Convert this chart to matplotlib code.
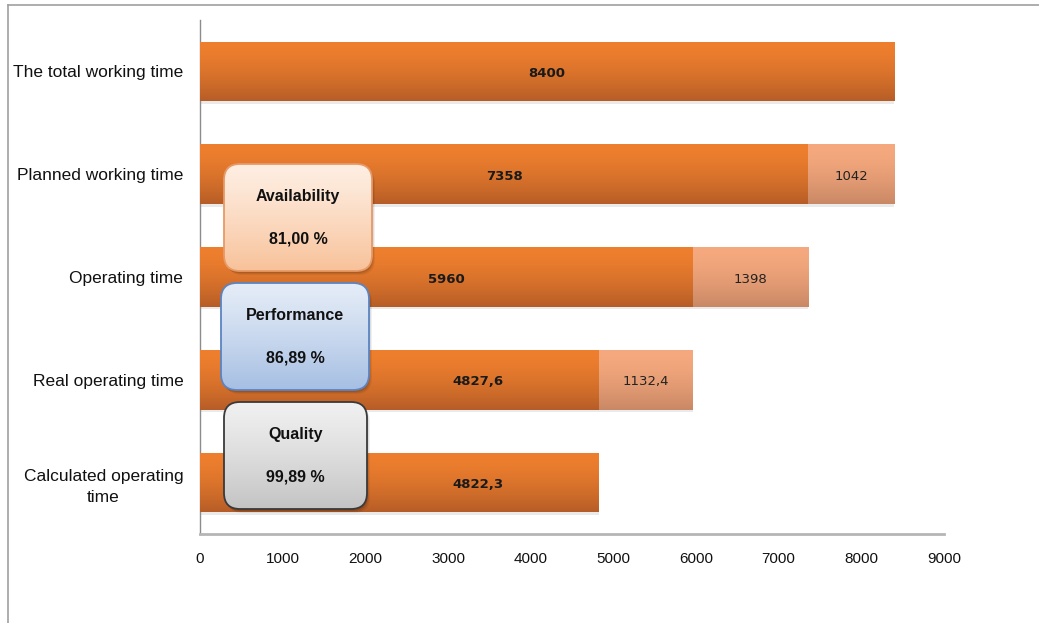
import numpy as np
import matplotlib
matplotlib.use("Agg")
import matplotlib.pyplot as plt
from matplotlib.patches import FancyBboxPatch
from matplotlib.colors import to_rgb
from matplotlib.lines import Line2D

# ---------------- data ----------------
categories = ["The total working time", "Planned working time", "Operating time",
              "Real operating time", "Calculated operating\ntime"]
main_values = [8400, 7358, 5960, 4827.6, 4822.3]
loss_values = [0, 1042, 1398, 1132.4, 0]
main_labels = ["8400", "7358", "5960", "4827,6", "4822,3"]
loss_labels = ["", "1042", "1398", "1132,4", ""]
x_ticks = [0, 1000, 2000, 3000, 4000, 5000, 6000, 7000, 8000, 9000]

kpi_names = ["Availability", "Performance", "Quality"]
kpi_values = ["81,00 %", "86,89 %", "99,89 %"]

# ---------------- style ----------------
W, H = 1039, 623
fig = plt.figure(figsize=(W / 100, H / 100), dpi=100)
fig.patch.set_facecolor("white")

ax_l, ax_r, ax_t, ax_b = 200, 944, 20, 534
ax = fig.add_axes([ax_l / W, 1 - ax_b / H, (ax_r - ax_l) / W, (ax_b - ax_t) / H])

dark_top, dark_bot = "#EE7F2E", "#B65D27"
light_top, light_bot = "#F6A97E", "#C98865"
bar_h = 0.58
box_clear = 1900  # labels are shifted right of the callout boxes when the bar centre is hidden


def vgrad(c_top, c_bot, n=64, gamma=1.6):
    a = np.array(to_rgb(c_top))
    b = np.array(to_rgb(c_bot))
    t = np.linspace(0, 1, n)[:, None] ** gamma
    return (a * (1 - t) + b * t)[:, None, :]


y = np.arange(len(categories))

# shadows
ax.barh(y + 0.025, main_values, height=bar_h, left=0, color="#999999", alpha=0.2, zorder=1)
ax.barh(y + 0.025, loss_values, height=bar_h, left=main_values, color="#999999", alpha=0.2, zorder=1)

main_bars = ax.barh(y, main_values, height=bar_h, color=dark_top, zorder=2)
loss_bars = ax.barh(y, loss_values, height=bar_h, left=main_values, color=light_top, zorder=2)

for bars, (ct, cb) in ((main_bars, (dark_top, dark_bot)), (loss_bars, (light_top, light_bot))):
    g = vgrad(ct, cb)
    for p in bars:
        if p.get_width() <= 0:
            continue
        x0, y0 = p.get_x(), p.get_y()
        w, h = p.get_width(), p.get_height()
        im = ax.imshow(g, extent=(x0, x0 + w, y0 + h, y0), origin="upper",
                       aspect="auto", zorder=3, interpolation="bilinear")
        im.set_clip_path(p)

for i in range(len(categories)):
    cx = main_values[i] / 2
    if i >= 3:
        cx = (box_clear + main_values[i]) / 2
    ax.text(cx, y[i] + 0.02, main_labels[i], ha="center", va="center",
            fontsize=9.5, fontweight="bold", color="#1a1a1a", zorder=5, family="DejaVu Sans")
    if loss_values[i] > 0:
        ax.text(main_values[i] + loss_values[i] / 2, y[i] + 0.02, loss_labels[i],
                ha="center", va="center", fontsize=9.5, color="#222222", zorder=5,
                family="DejaVu Sans")

ax.set_xlim(0, 9000)
ax.set_ylim(4.5, -0.5)
ax.set_yticks(y)
ax.set_yticklabels(categories, fontsize=12.5, family="Liberation Sans", color="#111111",
                   multialignment="center", linespacing=1.45)
ax.set_xticks(x_ticks)
ax.set_xticklabels([str(v) for v in x_ticks], fontsize=11, family="Liberation Sans",
                   color="#111111")
ax.tick_params(axis="both", length=0)
ax.tick_params(axis="y", pad=12)
ax.tick_params(axis="x", pad=13)
for s in ("top", "right"):
    ax.spines[s].set_visible(False)
ax.spines["left"].set_color("#8c8c8c")
ax.spines["left"].set_linewidth(1.0)
ax.spines["bottom"].set_color("#b5b5b5")
ax.spines["bottom"].set_linewidth(2.0)

# ---------------- KPI callout boxes ----------------
boxes = [
    (224, 164, 372, 271, "#FEEEE2", "#F8C29A", "#E69A68"),
    (221, 283, 369, 390, "#E4ECF7", "#A6BFE3", "#5A84C2"),
    (224, 402, 367, 509, "#F0F0F0", "#C4C4C4", "#3A3A3A"),
]
m = 6
for (x0, y0, x1, y1, ct, cb, ec), name, val in zip(boxes, kpi_names, kpi_values):
    w, h = x1 - x0, y1 - y0
    bax = fig.add_axes([(x0 - m) / W, 1 - (y1 + m) / H, (w + 2 * m) / W, (h + 2 * m) / H])
    bax.axis("off")
    bax.patch.set_alpha(0)
    r = 16
    for k, a in ((4, 0.06), (3, 0.08), (2, 0.1)):
        shadow = FancyBboxPatch((k - 1, -k), w, h, boxstyle=f"round,pad=0,rounding_size={r}",
                                facecolor="#000000", alpha=a, edgecolor="none", zorder=1)
        bax.add_patch(shadow)
    clip = FancyBboxPatch((0, 0), w, h, boxstyle=f"round,pad=0,rounding_size={r}",
                          facecolor="none", edgecolor="none")
    bax.add_patch(clip)
    g = vgrad(ct, cb, gamma=1.2)
    im = bax.imshow(g, extent=(0, w, 0, h), origin="upper", aspect="auto", zorder=2,
                    interpolation="bilinear")
    im.set_clip_path(clip)
    body = FancyBboxPatch((0, 0), w, h, boxstyle=f"round,pad=0,rounding_size={r}",
                          facecolor="none", edgecolor=ec, linewidth=1.3, zorder=3)
    bax.add_patch(body)
    bax.text(w / 2, h - 33, name, ha="center", va="center", fontsize=11.5,
             fontweight="bold", family="Liberation Sans", color="#111111", zorder=4)
    bax.text(w / 2, h - 75, val, ha="center", va="center", fontsize=11.5,
             fontweight="bold", family="Liberation Sans", color="#111111", zorder=4)
    bax.set_xlim(-m, w + m)
    bax.set_ylim(-m, h + m)

# outer frame lines
fig.add_artist(Line2D([8 / W, 1], [1 - 5 / H, 1 - 5 / H], transform=fig.transFigure,
                      color="#a0a0a0", linewidth=1.2))
fig.add_artist(Line2D([8 / W, 8 / W], [0, 1 - 5 / H], transform=fig.transFigure,
                      color="#a0a0a0", linewidth=1.2))

fig.savefig("out.png", dpi=100)
